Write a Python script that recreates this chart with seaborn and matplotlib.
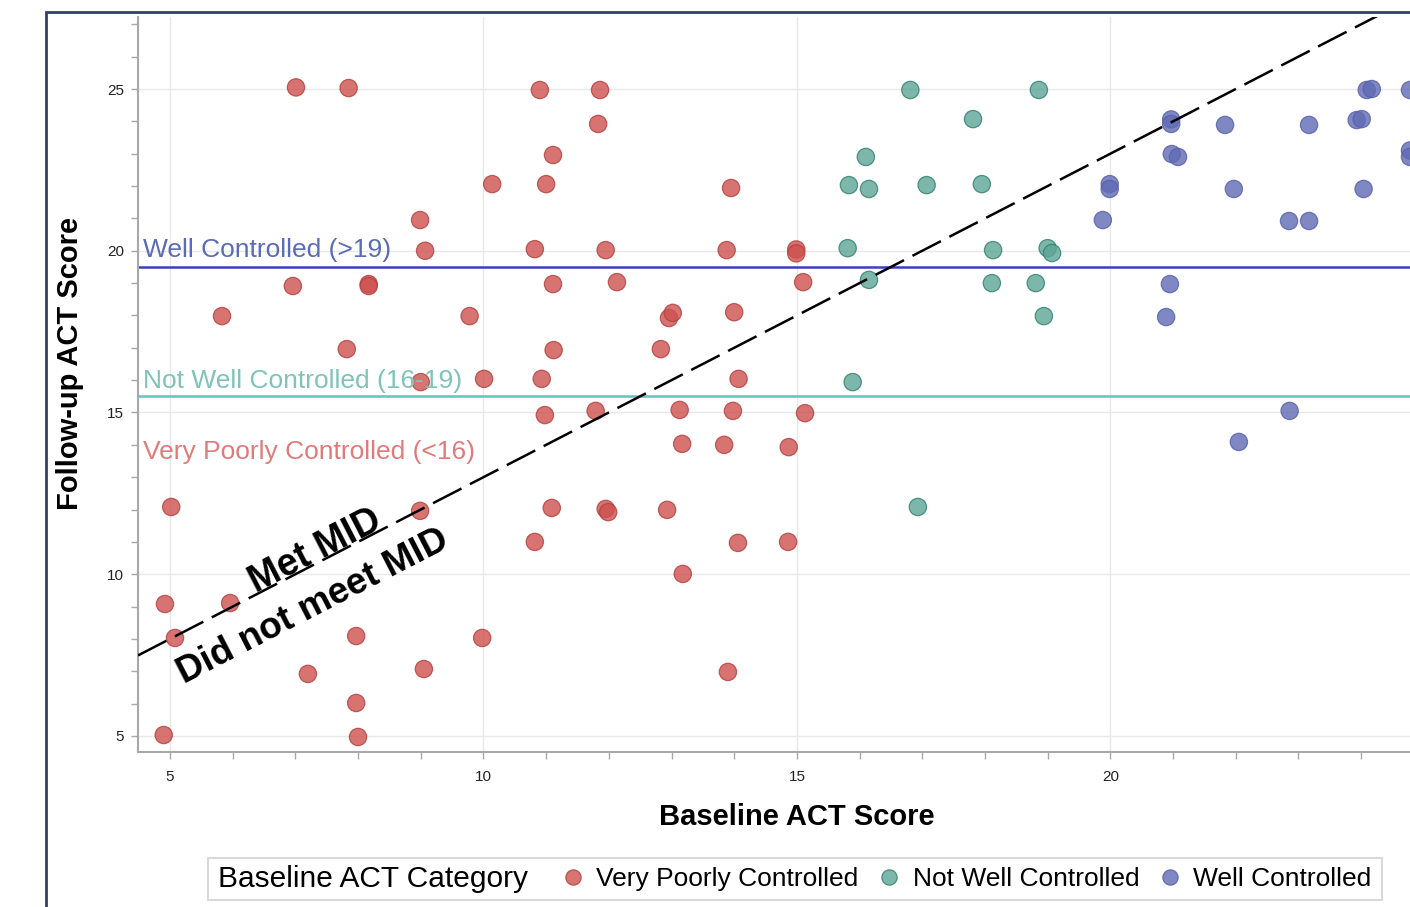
import numpy as np
import pandas as pd
import seaborn as sns
import matplotlib.pyplot as plt
from matplotlib.lines import Line2D
from matplotlib.patches import Rectangle
from matplotlib.ticker import MultipleLocator
from matplotlib.transforms import Bbox

# Baseline / follow-up ACT scores (jittered positions)
vpc_baseline = [7.01, 7.85, 10.90, 11.86, 11.83, 11.11, 10.14, 11.00, 13.95, 8.99,
                9.07, 10.82, 11.95, 13.88, 14.99, 14.99, 6.96, 8.17, 8.17, 11.11,
                12.13, 15.10, 5.83, 9.78, 12.96, 13.02, 14.00, 7.82, 11.12, 12.83,
                9.00, 10.01, 10.93, 14.07, 10.98, 11.79, 13.13, 13.98, 15.13, 13.17,
                13.84, 14.87, 5.02, 8.99, 11.09, 11.95, 11.99, 12.93, 10.82, 14.06,
                14.86, 13.18, 4.92, 5.96, 5.08, 7.97, 9.98, 7.20, 9.05, 13.90,
                7.97, 4.90, 8.00]
vpc_followup = [25.05, 25.03, 24.97, 24.97, 23.92, 22.96, 22.06, 22.06, 21.94, 20.95,
                20.00, 20.05, 20.02, 20.02, 20.04, 19.92, 18.91, 18.97, 18.91, 18.97,
                19.03, 19.03, 17.98, 17.98, 17.92, 18.08, 18.10, 16.96, 16.93, 16.96,
                15.94, 16.04, 16.04, 16.04, 14.92, 15.05, 15.08, 15.05, 14.98, 14.03,
                14.00, 13.93, 12.08, 11.96, 12.05, 12.02, 11.92, 11.99, 11.00, 10.97,
                11.00, 10.01, 9.08, 9.11, 8.03, 8.09, 8.03, 6.92, 7.07, 6.98,
                6.02, 5.03, 4.97]

nwc_baseline = [16.81, 18.86, 17.81, 16.10, 15.83, 16.15, 17.07, 17.95, 15.81, 18.13,
                19.00, 19.07, 16.15, 18.11, 18.81, 18.94, 15.89, 16.93]
nwc_followup = [24.97, 24.97, 24.07, 22.90, 22.03, 21.91, 22.03, 22.06, 20.08, 20.02,
                20.08, 19.93, 19.10, 19.00, 19.00, 17.98, 15.94, 12.08]

wc_baseline = [24.09, 24.17, 24.78, 20.97, 20.97, 21.83, 23.17, 23.93, 24.01, 20.98,
               21.08, 24.78, 24.78, 19.99, 19.99, 21.97, 24.04, 19.88, 22.85, 23.17,
               20.95, 20.89, 22.86, 22.05]
wc_followup = [24.97, 25.00, 24.97, 24.06, 23.92, 23.89, 23.89, 24.04, 24.07, 22.99,
               22.90, 23.10, 22.90, 22.06, 21.91, 21.91, 21.91, 20.95, 20.92, 20.92,
               18.97, 17.95, 15.05, 14.09]

categories = ['Very Poorly Controlled', 'Not Well Controlled', 'Well Controlled']
fill_colors = ['#CD514F', '#5CA495', '#5F6BB3']
edge_colors = ['#B23F3D', '#2E7F6E', '#5560A8']

# cut-offs and MID
well_cut = 19.5
notwell_cut = 15.5
mid = 3

df = pd.concat([
    pd.DataFrame({'baseline': vpc_baseline, 'followup': vpc_followup, 'category': categories[0]}),
    pd.DataFrame({'baseline': nwc_baseline, 'followup': nwc_followup, 'category': categories[1]}),
    pd.DataFrame({'baseline': wc_baseline, 'followup': wc_followup, 'category': categories[2]}),
], ignore_index=True)

sns.set_style('white')
plt.rcParams['font.family'] = ['Liberation Sans', 'DejaVu Sans']
plt.rcParams['text.color'] = 'black'
plt.rcParams['axes.labelcolor'] = 'black'

fig = plt.figure(figsize=(14.1, 9.07), dpi=100)
ax = fig.add_axes([138 / 1410, 155 / 907, 1272 / 1410, 735 / 907])

sns.scatterplot(data=df, x='baseline', y='followup', hue='category', hue_order=categories,
                palette=dict(zip(categories, fill_colors)), s=155, alpha=0.8,
                linewidth=0.9, legend=False, ax=ax, zorder=3)
edge_map = dict(zip(categories, edge_colors))
ax.collections[0].set_edgecolor([edge_map[c] for c in df['category']])

ax.set_xlim(4.49, 24.78)
ax.set_ylim(4.505, 27.226)

# control thresholds
ax.axhline(well_cut, color='#3B3FC0', lw=1.8, zorder=2)
ax.axhline(notwell_cut, color='#5CC6BF', lw=1.8, zorder=2)

# MID line: follow-up = baseline + 3
xs = np.array(ax.get_xlim())
ax.plot(xs, xs + mid, color='black', lw=1.8, ls=(0, (12.8, 3.8)), zorder=4)

ax.text(4.57, 20.02, 'Well Controlled (>19)', color='#5B6BB8', fontsize=19, va='center', zorder=5)
ax.text(4.57, 15.97, 'Not Well Controlled (16-19)', color='#7EC4B9', fontsize=19, va='center', zorder=5)
ax.text(4.57, 13.78, 'Very Poorly Controlled (<16)', color='#E07B7B', fontsize=19, va='center', zorder=5)

p0 = ax.transData.transform((0, 0))
p1 = ax.transData.transform((1, 1))
angle = np.degrees(np.arctan2(p1[1] - p0[1], p1[0] - p0[0]))
ax.text(7.31, 10.72, 'Met MID', rotation=angle, rotation_mode='anchor', ha='center', va='center',
        fontsize=27, fontweight='bold', zorder=5)
ax.text(7.28, 8.99, 'Did not meet MID', rotation=angle, rotation_mode='anchor', ha='center',
        va='center', fontsize=26.5, fontweight='bold', zorder=5)

# axes styling
ax.xaxis.set_major_locator(MultipleLocator(5))
ax.xaxis.set_minor_locator(MultipleLocator(1))
ax.yaxis.set_major_locator(MultipleLocator(5))
ax.yaxis.set_minor_locator(MultipleLocator(1))
ax.grid(True, which='major', color='#E8E8E8', lw=1)
ax.set_axisbelow(True)
for s in ['top', 'right']:
    ax.spines[s].set_visible(False)
for s in ['left', 'bottom']:
    ax.spines[s].set_color('#A8A8A8')
    ax.spines[s].set_linewidth(1.5)
ax.tick_params(which='both', bottom=True, left=True, length=5, width=1, color='#A8A8A8',
               labelsize=11, labelcolor='#222222')
ax.tick_params(axis='x', which='both', pad=8)
ax.tick_params(axis='y', which='both', pad=5)

ax.set_xlabel('Baseline ACT Score', fontsize=21, fontweight='bold')
ax.set_ylabel('Follow-up ACT Score', fontsize=21, fontweight='bold')
ax.xaxis.set_label_coords(0.5177, -0.0884)
ax.xaxis.label.set_va('center')
ax.yaxis.set_label_coords(-0.0535, 0.528)
ax.yaxis.label.set_va('center')

# legend: title on the left, entries in one row, framed together
handles = [Line2D([], [], ls='', marker='o', ms=11, mfc=f, mec=e, mew=0.9, alpha=0.8)
           for f, e in zip(fill_colors, edge_colors)]
leg = fig.legend(handles, categories, loc='center left', bbox_to_anchor=(562 / 1410, 28 / 907),
                 ncol=3, frameon=False, fontsize=19, handlelength=0.8, handletextpad=0.5,
                 columnspacing=0.75, borderpad=0, borderaxespad=0)
title = fig.text(218 / 1410, 28 / 907, 'Baseline ACT Category', fontsize=21.5, va='center')

fig.canvas.draw()
r = fig.canvas.get_renderer()
bb = Bbox.union([title.get_window_extent(r), leg.get_window_extent(r)])
yc = 28
fr = fig.transFigure.inverted().transform([[bb.x0 - 10, yc - 21], [bb.x1 + 10, yc + 21]])
fig.add_artist(Rectangle(fr[0], fr[1][0] - fr[0][0], fr[1][1] - fr[0][1], transform=fig.transFigure,
                         fill=False, ec='#D9D9D9', lw=1.5))

# outer frame (cropped at right/bottom)
fig.add_artist(Rectangle((46 / 1410, -0.05), 1.2, (907 - 12) / 907 + 0.05, transform=fig.transFigure,
                         fill=False, ec='#2E4270', lw=2, clip_on=False))

fig.savefig('out.png', dpi=100)
